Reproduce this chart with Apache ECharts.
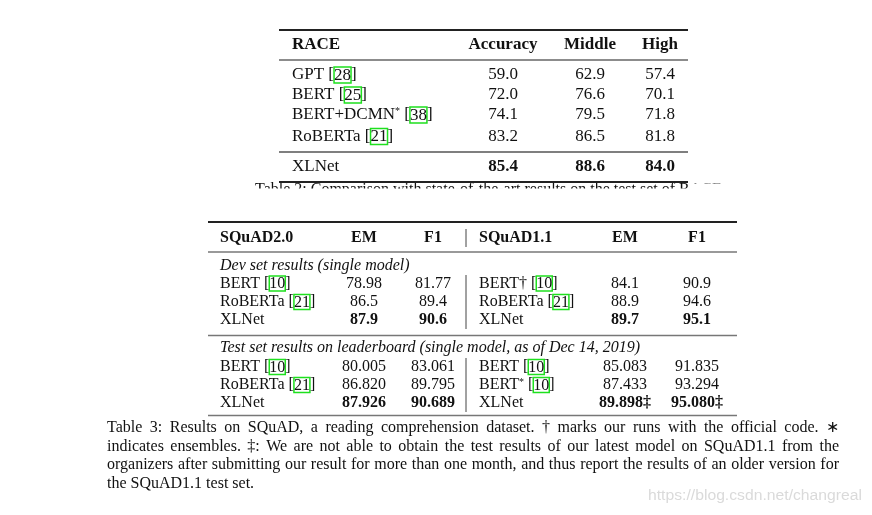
<!DOCTYPE html>
<html>
<head>
<meta charset="utf-8">
<script src="https://cdn.jsdelivr.net/npm/echarts@6/dist/echarts.min.js"></script>
<style>
  html, body { margin: 0; padding: 0; background: #fff; }
  #main { width: 872px; height: 515px; }
</style>
</head>
<body>
<div id="main"></div>
<script>
// RACE table
const raceHeader = ['RACE', 'Accuracy', 'Middle', 'High']
const raceModels = ['GPT', 'BERT', 'BERT+DCMN*', 'RoBERTa', 'XLNet']
const raceRefs = ['28', '25', '38', '21', '']
const raceAccuracy = ['59.0', '72.0', '74.1', '83.2', '85.4']
const raceMiddle = ['62.9', '76.6', '79.5', '86.5', '88.6']
const raceHigh = ['57.4', '70.1', '71.8', '81.8', '84.0']

// SQuAD table
const squadHeader = ['SQuAD2.0', 'EM', 'F1', 'SQuAD1.1', 'EM', 'F1']
const devTitle = 'Dev set results (single model)'
const devModels20 = ['BERT', 'RoBERTa', 'XLNet']
const devRefs20 = ['10', '21', '']
const devEM20 = ['78.98', '86.5', '87.9']
const devF120 = ['81.77', '89.4', '90.6']
const devModels11 = ['BERT†', 'RoBERTa', 'XLNet']
const devRefs11 = ['10', '21', '']
const devEM11 = ['84.1', '88.9', '89.7']
const devF111 = ['90.9', '94.6', '95.1']
const testTitle = 'Test set results on leaderboard (single model, as of Dec 14, 2019)'
const testModels20 = ['BERT', 'RoBERTa', 'XLNet']
const testRefs20 = ['10', '21', '']
const testEM20 = ['80.005', '86.820', '87.926']
const testF120 = ['83.061', '89.795', '90.689']
const testModels11 = ['BERT', 'BERT*', 'XLNet']
const testRefs11 = ['10', '10', '']
const testEM11 = ['85.083', '87.433', '89.898‡']
const testF111 = ['91.835', '93.294', '95.080‡']

const captionLines = [
  'Table 3: Results on SQuAD, a reading comprehension dataset. † marks our runs with the official code.  ∗',
  'indicates ensembles. ‡: We are not able to obtain the test results of our latest model on SQuAD1.1 from the',
  'organizers after submitting our result for more than one month, and thus report the results of an older version for',
  'the SQuAD1.1 test set.'
]
const prevCaption = 'Table 2: Comparison with state-of-the-art results on the test set of RACE'
const watermark = 'https://blog.csdn.net/changreal'

const SERIF = '"Liberation Serif", "Times New Roman", serif'
const INK = '#111'

const ctx = document.createElement('canvas').getContext('2d')
function measure(text, size, family, weight) {
  ctx.font = (weight || 'normal') + ' ' + size + 'px ' + family
  return ctx.measureText(text).width
}

function richFor(size) {
  return {
    c: { fontSize: size, fontFamily: SERIF, fill: INK, borderColor: '#1ee01e', borderWidth: 1.5, padding: [0, 0, -1, 0] },
    s: { fontSize: Math.round(size * 0.6), fontFamily: SERIF, fill: INK, verticalAlign: 'top' }
  }
}

function modelLabel(name, ref) {
  let s = name.endsWith('*') ? name.slice(0, -1) + '{s|*}' : name
  if (ref) s += ' [{c|' + ref + '}]'
  return s
}

const graphic = []

function txt(x, y, text, size, opt) {
  graphic.push({
    type: 'text', x: x, y: y, z: 10,
    style: Object.assign({
      text: text, fontFamily: SERIF, fontSize: size, fill: INK,
      align: 'left', verticalAlign: 'middle', rich: richFor(size)
    }, opt || {})
  })
}

function hline(x1, x2, y, w, color) {
  graphic.push({ type: 'line', z: 20, shape: { x1: x1, y1: y, x2: x2, y2: y }, style: { stroke: color, lineWidth: w } })
}

function vline(x, y1, y2) {
  graphic.push({ type: 'line', z: 20, shape: { x1: x, y1: y1, x2: x, y2: y2 }, style: { stroke: '#444', lineWidth: 1 } })
}

// ---- RACE table ----
const raceX = [292, 503, 590, 660]
const raceRowY = [75, 95, 115, 136.5, 166.5]
txt(raceX[0], 45, raceHeader[0], 17, { fontWeight: 'bold' })
for (let i = 1; i < raceHeader.length; i++) {
  txt(raceX[i], 45, raceHeader[i], 17, { fontWeight: 'bold', align: 'center' })
}
raceModels.forEach(function(m, i) {
  const bold = m === 'XLNet'
  const w = bold ? 'bold' : 'normal'
  txt(raceX[0], raceRowY[i], modelLabel(m, raceRefs[i]), 17)
  txt(raceX[1], raceRowY[i], raceAccuracy[i], 17, { align: 'center', fontWeight: w })
  txt(raceX[2], raceRowY[i], raceMiddle[i], 17, { align: 'center', fontWeight: w })
  txt(raceX[3], raceRowY[i], raceHigh[i], 17, { align: 'center', fontWeight: w })
})
hline(279, 688, 30, 2, '#222')
hline(279, 688, 60, 1.3, '#666')
hline(279, 688, 152, 1.3, '#555')
hline(279, 688, 182, 2, '#222')

// cut-off caption of the table above: only the tops of the letters show
txt(255, 182, prevCaption, 16, { verticalAlign: 'top' })
graphic.push({ type: 'rect', z: 15, shape: { x: 230, y: 188.5, width: 600, height: 26 }, style: { fill: '#fff' } })
graphic.push({ type: 'rect', z: 15, shape: { x: 689, y: 183.5, width: 140, height: 30 }, style: { fill: '#fff' } })

// ---- SQuAD table ----
const sqX = [220, 364, 433, 479, 625, 697]
txt(sqX[0], 237.5, squadHeader[0], 16, { fontWeight: 'bold' })
txt(sqX[1], 237.5, squadHeader[1], 16, { fontWeight: 'bold', align: 'center' })
txt(sqX[2], 237.5, squadHeader[2], 16, { fontWeight: 'bold', align: 'center' })
txt(sqX[3], 237.5, squadHeader[3], 16, { fontWeight: 'bold' })
txt(sqX[4], 237.5, squadHeader[4], 16, { fontWeight: 'bold', align: 'center' })
txt(sqX[5], 237.5, squadHeader[5], 16, { fontWeight: 'bold', align: 'center' })

function block(rowY, m20, r20, em20, f120, m11, r11, em11, f111) {
  rowY.forEach(function(y, i) {
    const w = m20[i] === 'XLNet' ? 'bold' : 'normal'
    txt(sqX[0], y, modelLabel(m20[i], r20[i]), 16)
    txt(sqX[1], y, em20[i], 16, { align: 'center', fontWeight: w })
    txt(sqX[2], y, f120[i], 16, { align: 'center', fontWeight: w })
    txt(sqX[3], y, modelLabel(m11[i], r11[i]), 16)
    txt(sqX[4], y, em11[i], 16, { align: 'center', fontWeight: w })
    txt(sqX[5], y, f111[i], 16, { align: 'center', fontWeight: w })
  })
}

txt(sqX[0], 265.5, devTitle, 16, { fontStyle: 'italic' })
block([283.5, 302, 320], devModels20, devRefs20, devEM20, devF120, devModels11, devRefs11, devEM11, devF111)
txt(sqX[0], 348, testTitle, 16, { fontStyle: 'italic' })
block([367, 385, 403], testModels20, testRefs20, testEM20, testF120, testModels11, testRefs11, testEM11, testF111)

hline(208, 737, 222, 2, '#222')
hline(208, 737, 252, 1.5, '#777')
hline(208, 737, 335.5, 1.5, '#777')
hline(208, 737, 415.5, 1.5, '#777')
vline(466, 229, 247)
vline(466, 275, 329)
vline(466, 358, 412)

// ---- caption, justified between x=107 and x=839 ----
const capLeft = 107
const capRight = 839
const capY = [427.5, 446.3, 465, 483.5]
captionLines.forEach(function(line, li) {
  const words = line.split(/\s+/)
  const widths = words.map(function(w) { return measure(w, 16, SERIF) })
  const natural = measure(line, 16, SERIF)
  const last = li === captionLines.length - 1
  const target = capRight - capLeft
  const scale = last ? 1 : Math.min(1, target / natural)
  const sum = widths.reduce(function(a, b) { return a + b }, 0) * scale
  const gap = last ? measure(' ', 16, SERIF) : (target - sum) / (words.length - 1)
  let x = capLeft
  words.forEach(function(w, i) {
    graphic.push({
      type: 'text', x: x, y: capY[li], z: 10, scaleX: scale,
      style: { text: w, fontFamily: SERIF, fontSize: 16, fill: INK, align: 'left', verticalAlign: 'middle' }
    })
    x += widths[i] * scale + gap
  })
})

// watermark
const wmW = measure(watermark, 14, '"Liberation Sans", Arial, sans-serif')
graphic.push({
  type: 'text', x: 648, y: 496, z: 5, scaleX: 214 / wmW,
  style: { text: watermark, fontFamily: '"Liberation Sans", Arial, sans-serif', fontSize: 14, fill: '#dadada', align: 'left', verticalAlign: 'middle' }
})

const chart = echarts.init(document.getElementById('main'))
chart.setOption({
  backgroundColor: '#fff',
  animation: false,
  graphic: graphic
})
</script>
</body>
</html>
